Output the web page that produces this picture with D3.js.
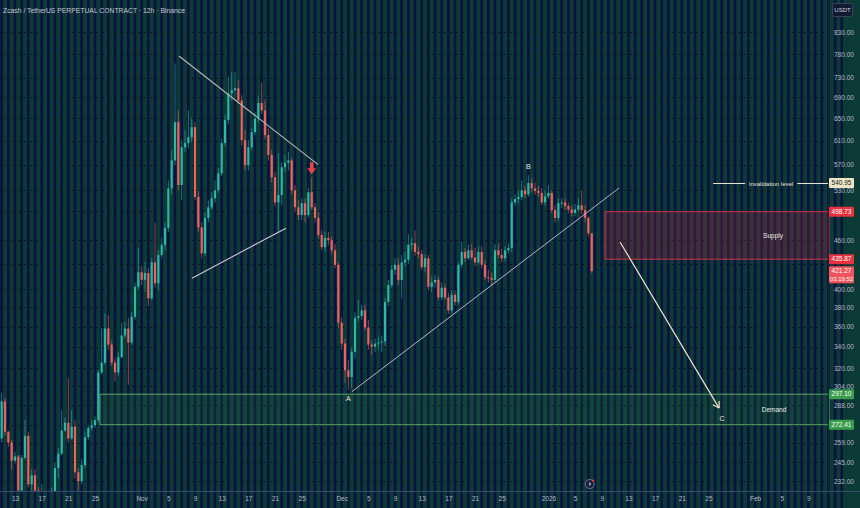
<!DOCTYPE html>
<html>
<head>
<meta charset="utf-8">
<script src="https://cdn.jsdelivr.net/npm/d3@7"></script>
<style>
  body { margin: 0; background: #0c3a36; overflow: hidden; }
  svg { display: block; font-family: "Liberation Sans", "Noto Sans", sans-serif; }
</style>
</head>
<body>
<svg id="chart" width="860" height="508"></svg>
<script>
// ZEC/USDT perp, 12h candles starting 2025-10-11 00:00 UTC
var firstCandle = '2025-10-11T00:00:00Z';
var firstOpen = 262;
var closes = [
  291, 267, 259, 246, 249, 226, 248, 264, 230, 236,
  226, 217, 223, 217, 221, 225, 241, 251, 268, 274,
  262, 271, 238, 232, 243, 263, 270, 272, 276, 316,
  325, 358, 342, 325, 316, 330, 351, 358, 344, 370,
  403, 420, 411, 419, 390, 432, 407, 441, 454, 476,
  533, 577, 643, 538, 599, 606, 616, 634, 520, 477,
  443, 490, 505, 518, 530, 556, 606, 647, 698, 704,
  708, 684, 611, 569, 599, 625, 650, 679, 665, 620,
  586, 550, 512, 523, 566, 573, 577, 530, 505, 494,
  511, 494, 527, 505, 490, 467, 451, 463, 460, 447,
  429, 364, 343, 318, 312, 335, 369, 371, 377, 359,
  342, 340, 343, 344, 345, 386, 405, 423, 429, 411,
  432, 435, 454, 456, 445, 442, 426, 437, 403, 408,
  411, 391, 402, 391, 377, 394, 386, 429, 445, 437,
  447, 438, 432, 445, 429, 414, 413, 411, 447, 441,
  437, 447, 450, 512, 517, 520, 530, 524, 541, 533,
  529, 526, 512, 521, 526, 501, 490, 511, 512, 507,
  502, 497, 502, 508, 501, 490, 469, 421.27
];
var highs = [
  298, 294, 268, 261, 252, 250, 250, 276, 267, 240,
  240, 228, 230, 226, 225, 228, 245, 255, 284, 278,
  311, 284, 276, 241, 247, 267, 272, 276, 279, 318,
  358, 374, 372, 346, 329, 335, 364, 365, 369, 375,
  408, 450, 427, 432, 425, 437, 483, 447, 463, 484,
  545, 594, 760, 665, 611, 629, 665, 650, 643, 530,
  484, 498, 515, 527, 545, 564, 614, 656, 731, 741,
  741, 724, 694, 629, 611, 632, 661, 694, 719, 684,
  632, 594, 558, 589, 574, 586, 591, 581, 538, 515,
  518, 518, 533, 550, 511, 498, 473, 471, 471, 465,
  455, 432, 369, 348, 327, 339, 375, 388, 383, 383,
  367, 346, 348, 350, 351, 390, 411, 429, 437, 437,
  441, 445, 468, 463, 473, 452, 447, 442, 441, 415,
  417, 415, 408, 406, 396, 399, 399, 432, 458, 450,
  454, 455, 450, 452, 452, 435, 423, 420, 455, 455,
  449, 452, 456, 518, 524, 530, 545, 536, 553, 549,
  542, 536, 533, 530, 538, 530, 508, 518, 518, 518,
  512, 508, 510, 518, 530, 508, 492, 469
];
var lows = [
  259, 264, 256, 240, 244, 223, 223, 247, 228, 226,
  220, 214, 214, 213, 215, 220, 223, 234, 250, 267,
  259, 261, 234, 226, 230, 241, 261, 268, 270, 274,
  314, 323, 337, 322, 308, 313, 329, 348, 305, 342,
  367, 399, 405, 397, 382, 388, 402, 399, 437, 447,
  471, 523, 569, 530, 515, 591, 597, 608, 515, 471,
  437, 440, 484, 501, 512, 526, 552, 601, 639, 684,
  688, 677, 602, 561, 561, 594, 620, 643, 658, 614,
  577, 542, 507, 471, 508, 558, 561, 524, 498, 487,
  487, 484, 490, 501, 484, 463, 447, 445, 454, 442,
  425, 358, 337, 307, 301, 302, 329, 365, 367, 356,
  337, 332, 335, 337, 335, 341, 382, 402, 417, 405,
  390, 427, 430, 447, 440, 437, 423, 420, 399, 397,
  402, 388, 388, 388, 373, 374, 382, 383, 425, 432,
  435, 435, 427, 429, 425, 411, 408, 404, 407, 437,
  432, 433, 443, 445, 507, 511, 515, 518, 520, 527,
  523, 520, 508, 507, 517, 497, 484, 486, 504, 501,
  497, 492, 492, 498, 495, 484, 465, 419
];

var priceTicks = [830, 780, 730, 690, 650, 610, 570, 530, 500, 460, 430, 400,
  380, 360, 340, 320, 304, 288, 272, 259, 245, 232];
var dateTicks = ['2025-10-13', '2025-10-17', '2025-10-21', '2025-10-25', '2025-11-01',
  '2025-11-05', '2025-11-09', '2025-11-13', '2025-11-17', '2025-11-21', '2025-11-25',
  '2025-12-01', '2025-12-05', '2025-12-09', '2025-12-13', '2025-12-17', '2025-12-21',
  '2025-12-25', '2026-01-01', '2026-01-05', '2026-01-09', '2026-01-13', '2026-01-17',
  '2026-01-21', '2026-01-25', '2026-02-01', '2026-02-05', '2026-02-09'];

// drawings (date, price)
var topLine = [['2025-11-06T14:00Z', 776], ['2025-11-27T11:00Z', 570]];
var wedgeLine = [['2025-11-08T13:00Z', 413], ['2025-11-22T15:30Z', 476]];
var riseLine = [['2025-12-02T13:00Z', 299.3], ['2026-01-11T14:30Z', 533.4]];
var moveArrow = [['2026-01-11T18:00Z', 457.6], ['2026-01-26T14:30Z', 285.6]];
var supply = { start: '2026-01-09T12:00Z', top: 498.73, bottom: 435.87 };
var demand = { start: '2025-10-25T18:00Z', top: 297.10, bottom: 272.41 };
var invalidation = { start: '2026-01-25T17:00Z', price: 540.95 };
var lastPrice = 421.27;
var countdown = '03:19:52';

var upCol = '#2cb7a7', downCol = '#f0605f';

var svg = d3.select('#chart');
var W = 860, H = 508;
var plotR = 828, plotB = 491;

var x = d3.scaleUtc()
  .domain([new Date(Date.UTC(2025, 9, 10, 18)), new Date(Date.UTC(2026, 1, 11, 22, 30))])
  .range([0, plotR]);
var y = d3.scaleLog().domain([225.7, 909.7]).range([plotB, 0]);

var candles = closes.map(function(c, i) {
  return {
    date: new Date(new Date(firstCandle).getTime() + i * 12 * 3600e3),
    open: i ? closes[i - 1] : firstOpen,
    high: highs[i], low: lows[i], close: c
  };
});

svg.append('defs').append('clipPath').attr('id', 'plotClip')
  .append('rect').attr('width', plotR + 2).attr('height', plotB);

// striped background
svg.append('rect').attr('width', W).attr('height', H).attr('fill', '#0c3b36');
var days = d3.utcDay.range(new Date(Date.UTC(2025, 9, 9)), new Date(Date.UTC(2026, 1, 15)));
svg.append('g').selectAll('rect').data(days).enter().append('rect')
  .attr('x', d => x(d) - 1.3)
  .attr('y', 0)
  .attr('width', 2.6)
  .attr('height', H)
  .attr('fill', '#0b1140');

// horizontal grid
svg.append('g').selectAll('line').data(priceTicks).enter().append('line')
  .attr('x1', 0).attr('x2', plotR)
  .attr('y1', d => Math.round(y(d)) + 0.5).attr('y2', d => Math.round(y(d)) + 0.5)
  .attr('stroke', '#02110f').attr('stroke-opacity', 0.8)
  .attr('stroke-dasharray', '2,4');

var plot = svg.append('g').attr('clip-path', 'url(#plotClip)');

// zones
function zone(z, fill, stroke, op) {
  var x0 = x(new Date(z.start));
  plot.append('rect')
    .attr('x', x0).attr('y', y(z.top))
    .attr('width', plotR + 2 - x0).attr('height', y(z.bottom) - y(z.top))
    .attr('fill', fill).attr('fill-opacity', op)
    .attr('stroke', stroke).attr('stroke-width', 0.9);
}
zone(demand, '#2e7d46', '#66b070', 0.16);
zone(supply, '#a0203f', '#e2344e', 0.3);

// candles
var cg = plot.append('g');
cg.selectAll('line').data(candles).enter().append('line')
  .attr('x1', d => x(d.date)).attr('x2', d => x(d.date))
  .attr('y1', d => y(d.high)).attr('y2', d => y(d.low))
  .attr('stroke', d => d.close >= d.open ? upCol : downCol)
  .attr('stroke-opacity', 0.75)
  .attr('stroke-width', 0.8);
cg.selectAll('rect').data(candles).enter().append('rect')
  .attr('x', d => x(d.date) - 1.1)
  .attr('y', d => y(Math.max(d.open, d.close)))
  .attr('width', 2.2)
  .attr('height', d => Math.max(1, Math.abs(y(d.open) - y(d.close))))
  .attr('fill', d => d.close >= d.open ? upCol : downCol);

// trend lines
var line = d3.line().x(d => x(new Date(d[0]))).y(d => y(d[1]));
plot.append('path').attr('d', line(topLine)).attr('stroke', '#b9b9b4').attr('stroke-width', 1.1).attr('fill', 'none');
plot.append('path').attr('d', line(wedgeLine)).attr('stroke', '#d0c8d0').attr('stroke-width', 1.1).attr('fill', 'none');
plot.append('path').attr('d', line(riseLine)).attr('stroke', '#b6b2cc').attr('stroke-width', 1).attr('fill', 'none');

// projected move arrow
var a0 = [x(new Date(moveArrow[0][0])), y(moveArrow[0][1])];
var a1 = [x(new Date(moveArrow[1][0])), y(moveArrow[1][1])];
plot.append('line')
  .attr('x1', a0[0]).attr('y1', a0[1]).attr('x2', a1[0]).attr('y2', a1[1])
  .attr('stroke', '#ece4c8').attr('stroke-width', 1.2);
var ang = Math.atan2(a1[1] - a0[1], a1[0] - a0[0]);
[ang + 2.6, ang - 2.6].forEach(function(t) {
  plot.append('line')
    .attr('x1', a1[0]).attr('y1', a1[1])
    .attr('x2', a1[0] + 7 * Math.cos(t)).attr('y2', a1[1] + 7 * Math.sin(t))
    .attr('stroke', '#ece4c8').attr('stroke-width', 1.2);
});

// sell arrow marker over candle 93
var mk = candles[93];
var mx = x(mk.date), my = y(mk.high) - 3;
plot.append('path')
  .attr('d', 'M' + (mx - 1.8) + ',' + (my - 12) + 'h3.6v6h2.6l-4.4,6l-4.4,-6h2.6z')
  .attr('fill', '#e8424f');

// invalidation level
var iy = Math.round(y(invalidation.price)) + 0.5;
var ix0 = x(new Date(invalidation.start));
plot.append('line').attr('x1', ix0).attr('x2', ix0 + 32).attr('y1', iy).attr('y2', iy).attr('stroke', '#e6e2d6');
plot.append('line').attr('x1', ix0 + 84).attr('x2', plotR).attr('y1', iy).attr('y2', iy).attr('stroke', '#e6e2d6');
plot.append('text').attr('x', ix0 + 58).attr('y', iy + 2.2)
  .attr('text-anchor', 'middle').attr('font-size', 6).attr('fill', '#e6e2d6')
  .text('invalidation level');

// zone captions and wave letters
var txt = svg.append('g').attr('fill', '#ecebe4').attr('font-size', 6.5).attr('text-anchor', 'middle');
txt.append('text').attr('x', 773).attr('y', (y(supply.top) + y(supply.bottom)) / 2 + 2.2).text('Supply');
txt.append('text').attr('x', 774).attr('y', (y(demand.top) + y(demand.bottom)) / 2 + 2.2).text('Demand');
var aC = candles[104], bC = candles[158];
txt.append('text').attr('x', x(aC.date)).attr('y', y(aC.low) + 11).attr('font-size', 7).text('A');
txt.append('text').attr('x', x(bC.date)).attr('y', y(bC.high) - 6).attr('font-size', 7).text('B');
txt.append('text').attr('x', a1[0] + 3).attr('y', a1[1] + 13).attr('font-size', 7).text('C');

// bottom axis
var xAxis = d3.axisBottom(x)
  .tickValues(dateTicks.map(d => new Date(d + 'T00:00:00Z')))
  .tickSize(0).tickPadding(5)
  .tickFormat(function(d) {
    if (d.getUTCDate() === 1) {
      return d.getUTCMonth() === 0 ? String(d.getUTCFullYear()) : d3.utcFormat('%b')(d);
    }
    return String(d.getUTCDate());
  });
var xg = svg.append('g').attr('transform', 'translate(0,' + plotB + ')').call(xAxis);
xg.select('.domain').remove();
xg.selectAll('text').attr('fill', '#b4b8c6').attr('font-size', 6.5)
  .attr('font-family', '"Liberation Sans", sans-serif');
svg.append('line').attr('x1', 0).attr('x2', W).attr('y1', plotB + 0.5).attr('y2', plotB + 0.5)
  .attr('stroke', '#3a4a6a');
svg.append('line').attr('x1', plotR + 0.5).attr('x2', plotR + 0.5).attr('y1', 0).attr('y2', plotB)
  .attr('stroke', '#1a2340');

// right axis (labels under a price tag are hidden, as on the platform)
var tagPrices = [invalidation.price, supply.top, supply.bottom, lastPrice, demand.top, demand.bottom];
var yAxis = d3.axisRight(y).tickValues(priceTicks).tickSize(0).tickPadding(6)
  .tickFormat(d3.format('.2f'));
var yg = svg.append('g').attr('transform', 'translate(' + plotR + ',0)').call(yAxis);
yg.select('.domain').remove();
yg.selectAll('text').attr('fill', '#b4b8c6').attr('font-size', 6.5)
  .attr('font-family', '"Liberation Sans", sans-serif');
yg.selectAll('.tick')
  .filter(d => tagPrices.some(p => Math.abs(y(d) - y(p)) < 6.5))
  .remove();

// price tags
function tag(price, bg, fg, extra) {
  var ty = y(price);
  var h = extra ? 17 : 10;
  var g = svg.append('g');
  g.append('rect').attr('x', plotR + 1).attr('y', ty - 5).attr('width', 25).attr('height', h)
    .attr('rx', 1).attr('fill', bg);
  g.append('text').attr('x', plotR + 13.5).attr('y', ty + 2.3).attr('text-anchor', 'middle')
    .attr('font-size', 6.5).attr('fill', fg).text(d3.format('.2f')(price));
  if (extra) {
    g.append('text').attr('x', plotR + 13.5).attr('y', ty + 9.5).attr('text-anchor', 'middle')
      .attr('font-size', 6).attr('fill', fg).text(extra);
  }
}
tag(invalidation.price, '#ebe6c6', '#222', null);
tag(supply.top, '#e8323f', '#fff', null);
tag(supply.bottom, '#e8323f', '#fff', null);
tag(lastPrice, '#f0545c', '#fff', countdown);
tag(demand.top, '#3a9d4e', '#fff', null);
tag(demand.bottom, '#3a9d4e', '#fff', null);

// currency box
svg.append('rect').attr('x', 832.5).attr('y', 3.5).attr('width', 20).attr('height', 13)
  .attr('rx', 2).attr('fill', '#121a33').attr('stroke', '#39415c');
svg.append('text').attr('x', 842.5).attr('y', 12.3).attr('text-anchor', 'middle')
  .attr('font-size', 6).attr('fill', '#d0d3dc').text('USDT');

// title
svg.append('text').attr('x', 3).attr('y', 13).attr('font-size', 6.8).attr('fill', '#c3c6d0')
  .text('Zcash / TetherUS PERPETUAL CONTRACT · 12h · Binance');

// event icon under last candle
var last = candles[candles.length - 1];
var ex = x(last.date) - 2;
svg.append('circle').attr('cx', ex).attr('cy', 484).attr('r', 4.5)
  .attr('fill', '#141a38').attr('stroke', '#8a8fa8').attr('stroke-width', 0.8);
svg.append('path').attr('d', 'M' + (ex + 0.8) + ',481 l-2.2,3.4 h1.8 l-1.2,3 l2.6,-3.8 h-1.8z')
  .attr('fill', '#c9ccd8');
svg.append('circle').attr('cx', ex + 3.3).attr('cy', 480.6).attr('r', 1.2).attr('fill', '#f23645');
</script>
</body>
</html>
